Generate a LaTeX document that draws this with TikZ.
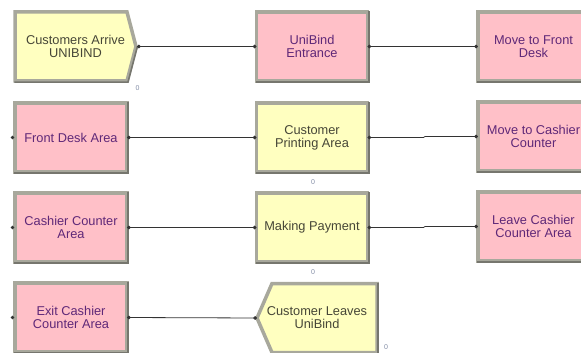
\documentclass[tikz,border=0pt]{standalone}
\usepackage{fontspec}
\setmainfont{Liberation Sans}
\usetikzlibrary{arrows.meta,backgrounds}
\definecolor{yfill}{RGB}{255,255,192}
\definecolor{pfill}{RGB}{255,192,200}
\definecolor{frame}{RGB}{168,168,156}
\definecolor{frameD}{RGB}{118,118,110}
\definecolor{ytext}{RGB}{70,70,55}
\definecolor{ptext}{RGB}{95,40,120}
\definecolor{cntc}{RGB}{130,140,165}
\tikzset{
  mod/.style={minimum width=111pt, minimum height=69pt, inner sep=0pt, outer sep=0pt,
    align=center, font=\fontsize{12.8}{13}\selectfont},
  pinkbox/.style={mod, text=ptext},
  yellowbox/.style={mod, text=ytext},
  frm/.style={draw=frame, line width=3.5pt, line join=miter},
  shd/.style={draw=frameD, line width=1.6pt},
  conn/.style={draw=black!80, line width=0.8pt, {Circle[length=3.6pt]}-{Circle[length=3.6pt]}},
  entrydot/.style={fill=black!80},
  cnt/.style={text=cntc, font=\fontsize{7}{7}\selectfont, inner sep=0pt},
}
\begin{document}
\begin{tikzpicture}[x=1pt,y=-1pt]
\useasboundingbox (0,0) rectangle (581,353);
% row 1
\node[yellowbox, minimum width=121pt] (create) at (75.5,46.5) {Customers Arrive\\UNIBIND};
\node[pinkbox] (entr) at (312,46.5) {UniBind\\Entrance};
\node[pinkbox] (mfd) at (533.5,46.5) {Move to Front\\Desk};
% row 2
\node[pinkbox, minimum width=112pt] (fda) at (71,137.5) {Front Desk Area};
\node[yellowbox] (print) at (312,137.5) {Customer\\Printing Area};
\node[pinkbox] (mcc) at (533.5,136.5) {Move to Cashier\\Counter};
% row 3
\node[pinkbox, minimum width=112pt] (cca) at (71,227.5) {Cashier Counter\\Area};
\node[yellowbox] (pay) at (312,227.5) {Making Payment};
\node[pinkbox] (lcca) at (533.5,226.5) {Leave Cashier\\Counter Area};
% row 4
\node[pinkbox, minimum width=112pt] (ecca) at (71,317.5) {Exit Cashier\\Counter Area};
\node[yellowbox, minimum width=120pt] (disp) at (317,318) {Customer Leaves\\UniBind};

\begin{scope}[on background layer]
  \foreach \n/\c in {entr/pfill,mfd/pfill,fda/pfill,print/yfill,mcc/pfill,cca/pfill,pay/yfill,lcca/pfill,ecca/pfill}{
    \fill[\c] (\n.north west) rectangle (\n.south east);
    \draw[frm] (\n.north west) rectangle (\n.south east);
    \draw[shd] ([shift={(1.2pt,0.6pt)}]\n.north east) -- ([shift={(1.2pt,-1.2pt)}]\n.south east) -- ([shift={(-0.6pt,-1.2pt)}]\n.south west);
  }
  % create (chevron right)
  \path[fill=yfill] (create.north west) -- ([xshift=-9pt]create.north east) -- (create.east) -- ([xshift=-9pt]create.south east) -- (create.south west) -- cycle;
  \draw[frm] (create.north west) -- ([xshift=-9pt]create.north east) -- (create.east) -- ([xshift=-9pt]create.south east) -- (create.south west) -- cycle;
  \draw[shd] ([shift={(1.4pt,0pt)}]create.east) -- ([shift={(-8pt,-1.2pt)}]create.south east) -- ([shift={(-0.6pt,-1.2pt)}]create.south west);
  % dispose (chevron left)
  \path[fill=yfill] (disp.west) -- ([xshift=15pt]disp.north west) -- (disp.north east) -- (disp.south east) -- ([xshift=15pt]disp.south west) -- cycle;
  \draw[frm] (disp.west) -- ([xshift=15pt]disp.north west) -- (disp.north east) -- (disp.south east) -- ([xshift=15pt]disp.south west) -- cycle;
  \draw[shd] ([shift={(1.2pt,0.6pt)}]disp.north east) -- ([shift={(1.2pt,-1.2pt)}]disp.south east) -- ([shift={(15pt,-1.2pt)}]disp.south west);
\end{scope}

\coordinate (ctip) at ([xshift=1pt]create.east);
% connectors
\draw[conn] (ctip) -- (entr.west);
\draw[conn] (entr.east) -- (mfd.west);
\draw[conn] (fda.east) -- (print.west);
\draw[conn] (print.east) -- ++(56,0) -- ([xshift=-53pt]mcc.west) -- (mcc.west);
\draw[conn] (cca.east) -- (pay.west);
\draw[conn] (pay.east) -- ++(56,0) -- ([xshift=-53pt]lcca.west) -- (lcca.west);
\draw[conn] (ecca.east) -- (disp.west);
% entry dots of left column
\foreach \n in {fda,cca,ecca}{
  \fill[entrydot] ([xshift=-2.5pt]\n.west) circle (1.8pt);
}
% counters
\node[cnt] (c1) at (137.5,88) {0};
\node[cnt] (c2) at (313,182) {0};
\node[cnt] (c3) at (313,272) {0};
\node[cnt] (c4) at (386,347) {0};
\end{tikzpicture}
\end{document}
